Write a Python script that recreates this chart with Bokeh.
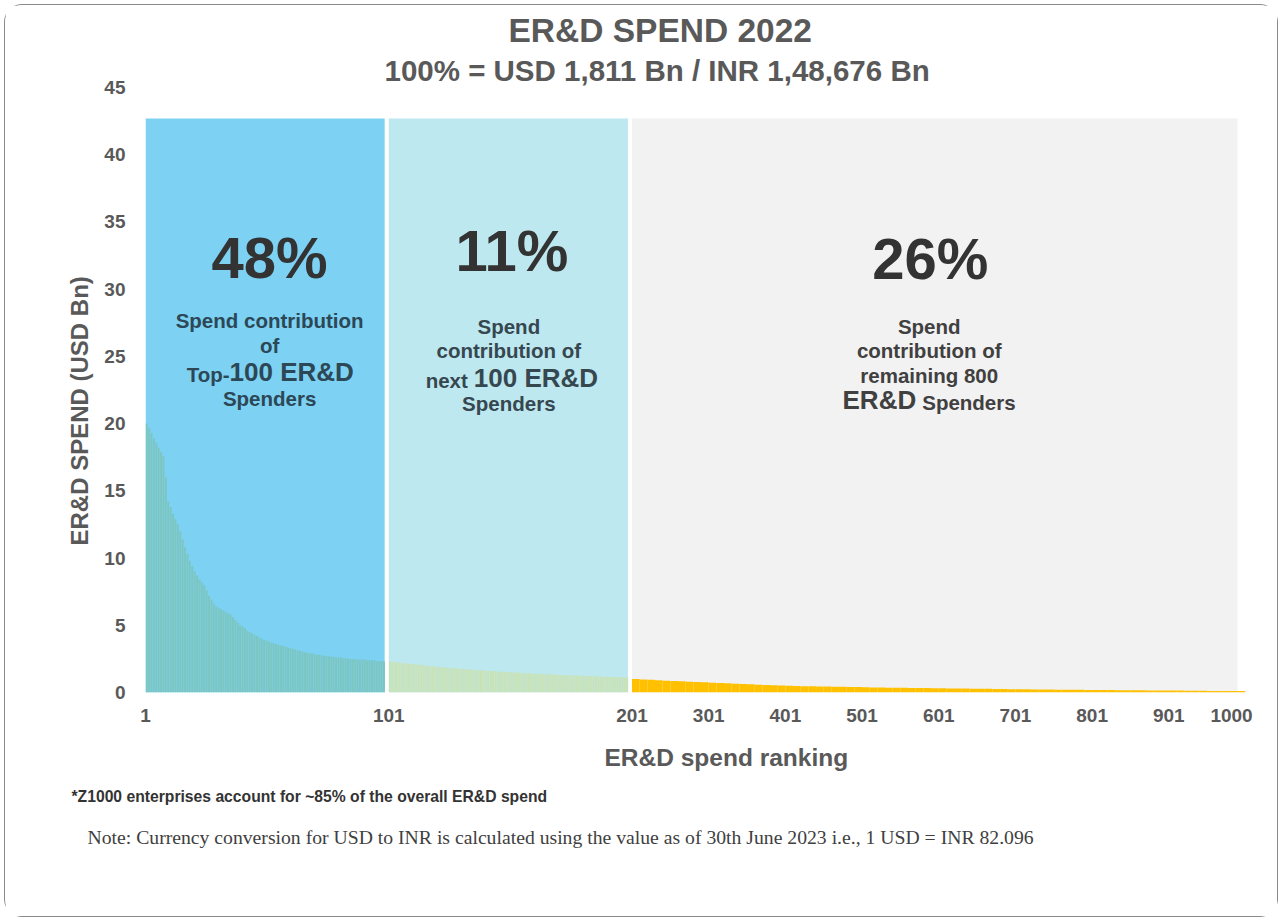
from bokeh.plotting import figure
from bokeh.models import Range1d, FixedTicker, Label, Title
from bokeh.embed import file_html
from bokeh.resources import INLINE

# ---------------- data ----------------
TITLE = "ER&D SPEND 2022"
SUBTITLE = "100% = USD 1,811 Bn / INR 1,48,676 Bn"
Y_TITLE = "ER&D SPEND (USD Bn)"
X_TITLE = "ER&D spend ranking"
FOOTNOTE = "*Z1000 enterprises account for ~85% of the overall ER&D spend"
NOTE = ("Note: Currency conversion for USD to INR is calculated using the value as of "
        "30th June 2023 i.e., 1 USD = INR 82.096")

segment_share = ["48%", "11%", "26%"]
segment_first_rank = [1, 101, 201]
segment_last_rank = [100, 200, 1000]
band_top = 42.7

# spend (USD Bn) of ranks 1..100
top100_spend = [
    20.0, 19.7, 19.3, 18.9, 18.6, 18.2, 17.9, 17.6, 16.0, 14.2,
    13.8, 13.3, 12.9, 12.5, 12.0, 11.4, 10.8, 10.3, 9.8, 9.4,
    9.0, 8.7, 8.4, 8.2, 8.0, 7.6, 7.2, 6.9, 6.6, 6.4,
    6.3, 6.2, 6.1, 6.0, 5.9, 5.8, 5.6, 5.4, 5.2, 5.0,
    4.9, 4.8, 4.6, 4.5, 4.4, 4.3, 4.2, 4.1, 4.0, 3.9,
    3.85, 3.8, 3.7, 3.65, 3.6, 3.55, 3.5, 3.45, 3.4, 3.35,
    3.3, 3.25, 3.2, 3.15, 3.1, 3.05, 3.0, 2.95, 2.9, 2.9,
    2.85, 2.8, 2.8, 2.75, 2.75, 2.7, 2.7, 2.65, 2.65, 2.6,
    2.6, 2.6, 2.55, 2.55, 2.55, 2.5, 2.5, 2.5, 2.45, 2.45,
    2.45, 2.45, 2.4, 2.4, 2.4, 2.4, 2.35, 2.35, 2.35, 2.3,
]
# spend of ranks 101..200
next100_spend = [
    2.30, 2.28, 2.26, 2.24, 2.22, 2.20, 2.18, 2.16, 2.14, 2.12,
    2.10, 2.08, 2.06, 2.04, 2.02, 2.00, 1.98, 1.96, 1.95, 1.93,
    1.91, 1.90, 1.88, 1.86, 1.85, 1.83, 1.82, 1.80, 1.79, 1.77,
    1.76, 1.74, 1.73, 1.72, 1.70, 1.69, 1.68, 1.66, 1.65, 1.64,
    1.62, 1.61, 1.60, 1.59, 1.58, 1.56, 1.55, 1.54, 1.53, 1.52,
    1.51, 1.50, 1.49, 1.48, 1.47, 1.46, 1.45, 1.44, 1.43, 1.42,
    1.41, 1.40, 1.39, 1.38, 1.37, 1.36, 1.36, 1.35, 1.34, 1.33,
    1.32, 1.31, 1.30, 1.30, 1.29, 1.28, 1.27, 1.27, 1.26, 1.25,
    1.24, 1.24, 1.23, 1.22, 1.21, 1.21, 1.20, 1.19, 1.19, 1.18,
    1.17, 1.17, 1.16, 1.15, 1.15, 1.14, 1.13, 1.13, 1.12, 1.12,
]
# spend of ranks 201..1000, read in blocks of 10 ranks (201-210, 211-220, ...)
rest_block_spend = [
    1.00, 0.97, 0.94, 0.91, 0.88, 0.85, 0.83, 0.80, 0.78, 0.76,
    0.73, 0.71, 0.68, 0.66, 0.63, 0.61, 0.58, 0.56, 0.54, 0.52,
    0.50, 0.49, 0.47, 0.46, 0.45, 0.44, 0.43, 0.42, 0.41, 0.40,
    0.39, 0.38, 0.37, 0.36, 0.36, 0.35, 0.34, 0.33, 0.33, 0.32,
    0.31, 0.30, 0.30, 0.29, 0.28, 0.28, 0.27, 0.26, 0.26, 0.25,
    0.24, 0.24, 0.23, 0.23, 0.22, 0.21, 0.21, 0.20, 0.20, 0.19,
    0.19, 0.18, 0.18, 0.17, 0.17, 0.16, 0.16, 0.15, 0.15, 0.15,
    0.14, 0.14, 0.13, 0.13, 0.13, 0.12, 0.12, 0.12, 0.11, 0.11,
]
REST_BLOCK = 10

tick_ranks = [1, 101, 201, 301, 401, 501, 601, 701, 801, 901, 1000]
y_ticks = [0, 5, 10, 15, 20, 25, 30, 35, 40, 45]

# ---------------- piecewise rank axis ----------------
GAP = 1.5      # white separator between the shaded bands
K3 = 0.32      # the 800 tail ranks are drawn compressed


def xpos(rank):
    """left edge of a rank's bar on the (piecewise) ranking axis"""
    if rank <= 100:
        return rank - 1.0
    if rank <= 200:
        return 100 + GAP + (rank - 101)
    return 200 + 2 * GAP + (rank - 201) * K3


X_END = xpos(1000) + K3

OX, OY = 5.5, 5.5                     # canvas origin on the page
W, H = 1274, 913
FL, FR, FT, FB = 146, 1245, 87, 692   # frame in page pixels
XS = (FR - FL) / X_END
YS = (FB - FT) / 45.0


def dx(px):
    return (px - FL) / XS


def dy(py):
    return (FB - py) / YS


p = figure(width=W, height=H, output_backend="svg", toolbar_location=None,
           x_range=Range1d(0, X_END), y_range=Range1d(0, 45),
           min_border_left=round(FL - OX), min_border_right=round(W + OX - FR),
           min_border_top=round(FT - OY), min_border_bottom=round(H + OY - FB))
p.outline_line_color = None
p.background_fill_color = "white"
p.border_fill_color = "white"
p.grid.visible = False
p.styles = {"border": "1.5px solid #8a8a8a", "border-radius": "18px",
            "margin-left": "4px", "margin-top": "4px"}

FONT = "Liberation Sans"
AX = "#595959"

# titles: the main title is the outer one, the subtitle sits nearest the frame
# (left-aligned with an offset so both are centred on the card, not the frame)
p.title.text = TITLE
p.title.align = "left"
p.title.offset = 363
p.title.text_font = FONT
p.title.text_font_size = "33.5px"
p.title.text_font_style = "bold"
p.title.text_color = AX
p.title.standoff = 4
p.add_layout(Title(text=SUBTITLE, align="left", offset=239, text_font=FONT,
                   text_font_size="29.5px", text_font_style="bold", text_color=AX,
                   standoff=2), "above")

# shaded bands
band_colors = ["#7dd1f3", "#bde8ef", "#f2f2f2"]
band_left = [xpos(r) for r in segment_first_rank]
band_right = [xpos(100) + 1 - 0.2, xpos(200) + 1 - 0.2, xpos(1000) - 3.0]
p.quad(left=band_left, right=band_right, bottom=[0] * 3, top=[band_top] * 3,
       fill_color=band_colors, line_color=None)

# bars
r1 = list(range(1, 101))
p.vbar(x=[xpos(r) + 0.5 for r in r1], width=0.82, bottom=0, top=top100_spend,
       fill_color="#7cc6c2", line_color=None)
r2 = list(range(101, 201))
p.vbar(x=[xpos(r) + 0.5 for r in r2], width=0.82, bottom=0, top=next100_spend,
       fill_color="#c9e2b6", line_color=None)
starts = [201 + REST_BLOCK * i for i in range(len(rest_block_spend))]
p.quad(left=[xpos(s) for s in starts], right=[xpos(s) + REST_BLOCK * K3 for s in starts],
       bottom=0, top=rest_block_spend, fill_color="#ffc000", line_color=None)

# axes
tick_pos = [xpos(r) if r < 1000 else xpos(r) - 5.5 for r in tick_ranks]
p.xaxis.ticker = FixedTicker(ticks=tick_pos)
p.xaxis.major_label_overrides = {t: str(r) for t, r in zip(tick_pos, tick_ranks)}
p.yaxis.ticker = FixedTicker(ticks=y_ticks)
for ax in (p.xaxis[0], p.yaxis[0]):
    ax.axis_line_color = None
    ax.major_tick_line_color = None
    ax.minor_tick_line_color = None
    ax.major_tick_out = 0
    ax.major_tick_in = 0
    ax.major_label_text_font = FONT
    ax.major_label_text_font_style = "bold"
    ax.major_label_text_font_size = "19px"
    ax.major_label_text_color = AX
p.xaxis.major_label_standoff = 16
p.yaxis.major_label_standoff = 20

# axis titles and notes as side titles (left-aligned so they can be offset)
p.add_layout(Title(text=Y_TITLE, align="left", offset=147, standoff=18, text_font=FONT,
                   text_font_size="24px", text_font_style="bold", text_color=AX), "left")
p.add_layout(Title(text=X_TITLE, align="left", offset=459, standoff=35, text_font=FONT,
                   text_font_size="24.5px", text_font_style="bold", text_color=AX), "below")
p.add_layout(Title(text=FOOTNOTE, align="left", offset=-74, standoff=-6, text_font=FONT,
                   text_font_size="15.7px", text_font_style="bold", text_color="#333333"), "below")
p.add_layout(Title(text=NOTE, align="left", offset=-58, standoff=45, text_font="Liberation Serif",
                   text_font_size="19.7px", text_font_style="normal", text_color="#404040"), "below")


def txt(px, py, s, size, color, align="center", style="bold", font=FONT):
    p.add_layout(Label(x=dx(px), y=dy(py), text=s, text_align=align, text_baseline="middle",
                       text_font_size=f"{size}px", text_font_style=style, text_font=font,
                       text_color=color))


def mixed(px_left_end, px_right_start, base_py, left_s, left_size, right_s, right_size, color):
    # two runs of different size sharing one baseline
    txt(px_left_end, base_py - 0.3465 * left_size, left_s, left_size, color, align="right")
    txt(px_right_start, base_py - 0.3465 * right_size, right_s, right_size, color, align="left")


# band texts
S, B = 20.5, 26
C1, C2, C3, CP = "#2c4755", "#36474f", "#404040", "#333333"
txt(270, 257, segment_share[0], 58, CP)
txt(270, 320, "Spend contribution", S, C1)
txt(270, 345, "of", S, C1)
mixed(230, 230, 381, "Top-", S, "100 ER&D", B, C1)
txt(270, 398, "Spenders", S, C1)

txt(512, 250, segment_share[1], 58, CP)
txt(509, 326, "Spend", S, C2)
txt(509, 350, "contribution of", S, C2)
mixed(468, 474, 387, "next", S, "100 ER&D", B, C2)
txt(509, 403, "Spenders", S, C2)

txt(930, 258, segment_share[2], 58, CP)
txt(929, 326, "Spend", S, C3)
txt(929, 350, "contribution of", S, C3)
txt(929, 375, "remaining 800", S, C3)
mixed(916, 922, 409, "ER&D", B, "Spenders", S, C3)

open("out.html", "w").write(file_html(p, INLINE))
